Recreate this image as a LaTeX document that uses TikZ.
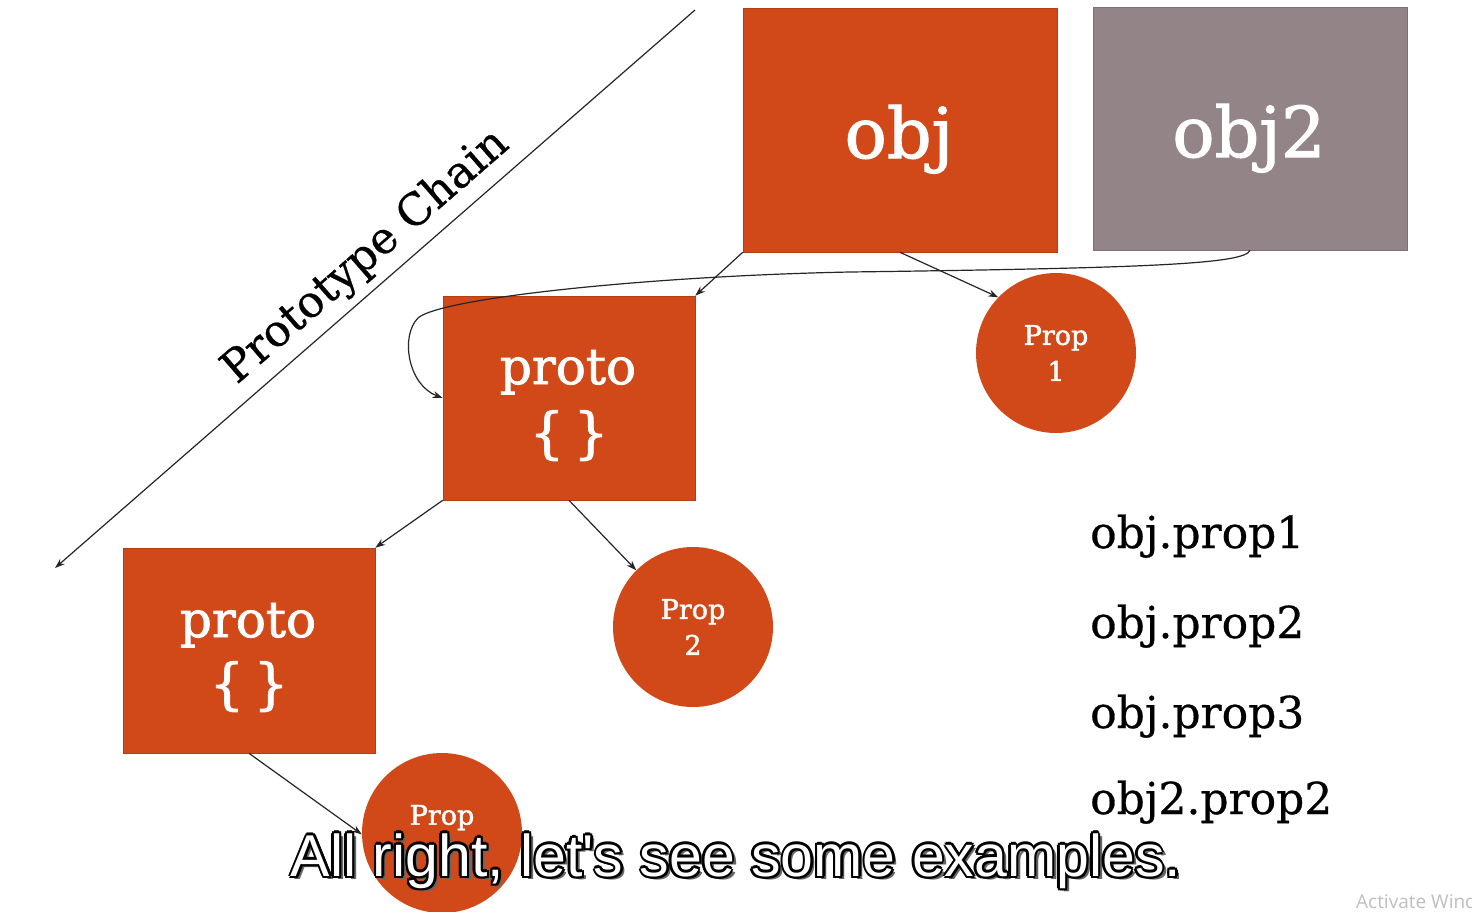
\documentclass[tikz,border=0pt]{standalone}
\usepackage{fontspec}
\setmainfont[FakeBold=0.6]{DejaVu Serif}
\newfontfamily\slab[FakeBold=1.6]{DejaVu Serif}
\newfontfamily\capfont{Liberation Sans}
\newfontfamily\winfont{Open Sans}
\usetikzlibrary{arrows.meta}
\definecolor{rust}{RGB}{209,73,25}
\definecolor{slate}{RGB}{146,132,135}
\newcommand{\captxt}{All right, let's see some examples.}
\begin{document}
\begin{tikzpicture}[x=1pt,y=-1pt,
  rbox/.style={draw=rust!85!black, line width=0.6pt, fill=rust, inner sep=0pt},
  gbox/.style={rbox, draw=slate!85!black, fill=slate},
  wtxt/.style={text=white, inner sep=0pt, font=\slab\fontsize{#1}{#1}\selectfont},
  propc/.style={circle, fill=rust, text=white, inner sep=0pt, minimum size=160pt, align=center, font=\slab\fontsize{27}{36}\selectfont},
  arr/.style={-{Stealth[length=10pt,width=7pt]}, line width=1.2pt, black!85},
  listtxt/.style={anchor=base west, inner sep=0pt, font=\fontsize{44}{44}\selectfont},
  capt/.style={font=\capfont\fontsize{59}{59}\selectfont, inner sep=0pt}
]
\useasboundingbox (0,0) rectangle (1472,911);
\clip (0,0) rectangle (1472,911);
\fill[white] (0,0) rectangle (1472,911);

% boxes
\node[rbox, minimum width=314pt, minimum height=244pt] (obj) at (900,130) {};
\node[gbox, minimum width=314pt, minimum height=243pt] (obj2) at (1250,128.5) {};
\node[rbox, minimum width=252pt, minimum height=204pt] (p1) at (569,398) {};
\node[rbox, minimum width=252pt, minimum height=205pt] (p2) at (249,650.5) {};
\node[wtxt=70, anchor=base] (objt) at (899,158) {obj};
\node[wtxt=70, anchor=base] (obj2t) at (1249,157) {obj2};
\node[wtxt=50, anchor=base] (p1t) at (568,384) {proto};
\node[wtxt=55, anchor=base] (p1b) at (569,452) {\{\,\}};
\node[wtxt=50, anchor=base] (p2t) at (248,637) {proto};
\node[wtxt=55, anchor=base] (p2b) at (249,703) {\{\,\}};

% circles
\node[propc] (c1) at (1056,353) {Prop\\1};
\node[propc] (c2) at (693,627) {Prop\\2};
\node[propc] (c3) at (442,833) {Prop\\\phantom{3}};

% prototype chain axis
\coordinate (dtop) at (695,10);
\coordinate (dbot) at (55,568);
\draw[arr] (dtop) -- (dbot);
\node[rotate=41, font=\fontsize{44}{44}\selectfont] (pc) at (366,257) {Prototype Chain};

% connectors
\draw[arr] (obj.south west) -- (p1.north east);
\draw[arr] (obj.south) -- (c1.136);
\draw[arr] (p1.south west) -- (p2.north east);
\draw[arr] (p1.south) -- (c2.135);
\draw[arr] (p2.south) -- (c3.181);
\draw[arr] (obj2.south) .. controls (1245,264) and (1150,268) .. (850,272)
  .. controls (650,276) and (440,298) .. (418,318)
  .. controls (400,336) and (408,385) .. (p1.west);

% list
\node[listtxt] (l1) at (1090,548) {obj.prop1};
\node[listtxt] (l2) at (1090,638) {obj.prop2};
\node[listtxt] (l3) at (1090,728) {obj.prop3};
\node[listtxt] (l4) at (1090,814) {obj2.prop2};

% watermark
\node[anchor=west, inner sep=0pt, text=black!25, font=\winfont\fontsize{19}{19}\selectfont] (win) at (1356,901) {Activate Windows};

% caption with outline and shadow
\node[capt, text=black!60] (cs) at (740,864) {\captxt};
\foreach \dx/\dy [count=\i] in {-2.5/0,2.5/0,0/-2.5,0/2.5,-1.8/-1.8,1.8/-1.8,-1.8/1.8,1.8/1.8}
  \node[capt, text=black] (co\i) at (736+\dx,861+\dy) {\captxt};
\node[capt, text=white] (cap) at (736,861) {\captxt};
\end{tikzpicture}
\end{document}
